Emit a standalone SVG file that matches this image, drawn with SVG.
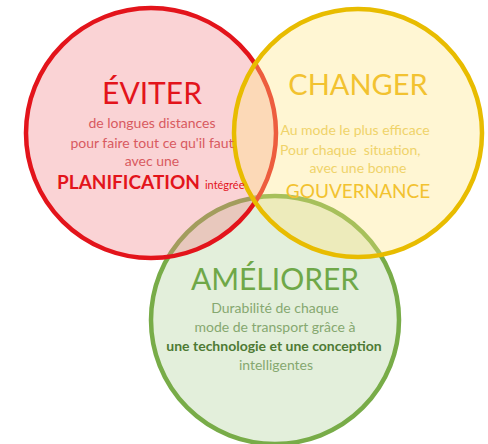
<svg xmlns="http://www.w3.org/2000/svg" width="488" height="444" viewBox="0 0 488 444">
<style>
text{font-family:Lato,"Open Sans","Liberation Sans",sans-serif;text-anchor:middle}
.circ{stroke-width:4.5}
.title{font-size:30px}
.body{font-size:14px}
.r{fill:#E3141B}
.rb{fill:#D85A60}
.y{fill:#F2C230}
.yb{fill:#EFD36A}
.g{fill:#6FA848}
.gb{fill:#86A870}
.gd{fill:#4E7A34}
</style>
<rect width="488" height="444" fill="#FFFFFF"/>
<g id="ameliorer">
<circle class="circ" cx="275" cy="320" r="124" fill="#90C070" fill-opacity="0.25" stroke="#78AC48"/>
</g>
<g id="eviter">
<circle class="circ" cx="151" cy="133" r="125" fill="#F08088" fill-opacity="0.35" stroke="#E3141B"/>
</g>
<g id="changer">
<circle class="circ" cx="358" cy="133" r="124" fill="#FFE680" fill-opacity="0.35" stroke="#E8BC00"/>
</g>
<g id="eviter-text">
<text class="title r" x="152" y="104">ÉVITER</text>
<text class="body rb" x="152" y="128">de longues distances</text>
<text class="body rb" x="152" y="148">pour faire tout ce qu'il faut</text>
<text class="body rb" x="152" y="166">avec une</text>
<text x="57" y="189" style="text-anchor:start" class="r"><tspan font-size="19" font-weight="bold">PLANIFICATION</tspan><tspan font-size="11" dx="5">intégrée</tspan></text>
</g>
<g id="changer-text">
<text class="y" x="358" y="95" font-size="29">CHANGER</text>
<text class="body yb" x="355" y="135">Au mode le plus efficace</text>
<text class="body yb" x="280" y="155" style="text-anchor:start">Pour chaque&#160; situation,</text>
<text class="body yb" x="358" y="173">avec une bonne</text>
<text class="y" x="358" y="198" font-size="19">GOUVERNANCE</text>
</g>
<g id="ameliorer-text">
<text class="title g" x="275" y="290">AMÉLIORER</text>
<text class="body gb" x="275" y="313">Durabilité de chaque</text>
<text class="body gb" x="275" y="332">mode de transport grâce à</text>
<text class="body gd" x="274" y="351" font-weight="bold">une technologie et une conception</text>
<text class="body gb" x="276" y="370">intelligentes</text>
</g>
</svg>
